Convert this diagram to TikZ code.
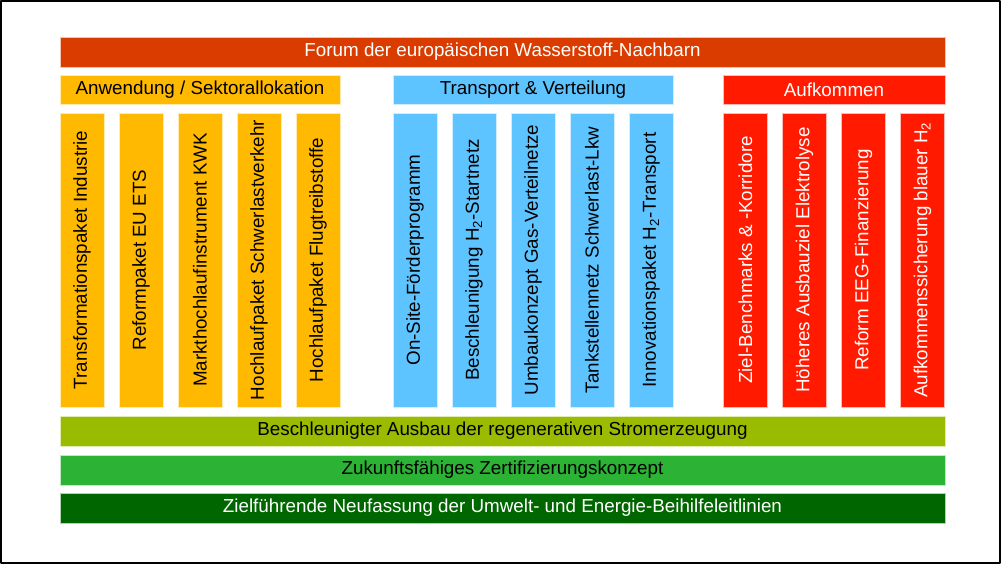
\documentclass[tikz,border=0pt]{standalone}
\usepackage{fontspec}
\setmainfont{Liberation Sans}
\usepackage{xcolor}
\usepackage{tikz}
\usetikzlibrary{positioning}
\definecolor{forumred}{HTML}{DA3C00}
\definecolor{appyellow}{HTML}{FFB900}
\definecolor{transblue}{HTML}{5EC4FF}
\definecolor{supplyred}{HTML}{FF1A00}
\definecolor{olivebar}{HTML}{99BB00}
\definecolor{greenbar}{HTML}{2CB234}
\definecolor{darkbar}{HTML}{006600}
\tikzset{
    every picture/.style={line cap=round,line join=round},
    bar/.style={draw=white!70!#1,fill=#1,line width=0.8pt,
      minimum width=885pt,minimum height=30pt,inner sep=0pt,
      font=\fontsize{18.8}{21}\selectfont},
    headbox/.style={draw=white!70!#1,fill=#1,line width=0.8pt,
      minimum width=280pt,minimum height=29pt,inner sep=0pt,
      font=\fontsize{18.8}{21}\selectfont},
    colbox/.style={draw=white!70!#1,fill=#1,line width=0.8pt,rotate=90,
      minimum width=294pt,minimum height=44pt,inner sep=0pt,
      font=\fontsize{18.8}{21}\selectfont}
}
\begin{document}
\begin{tikzpicture}[x=1pt,y=-1pt]
  \useasboundingbox (0,0) rectangle (1002,564);
  \draw[line width=1.6pt,line cap=butt] (0.8,0.8) rectangle (1000.2,562.8);
  % top bar and group headers
  \node[bar=forumred,text=white] (forum) at (502.5,52) {Forum der europäischen Wasserstoff-Nachbarn};
  \node[headbox=appyellow] (app) at (200,89.5) {Anwendung / Sektorallokation};
  \node[headbox=transblue] (trans) at (533,89.5) {Transport \& Verteilung};
  \node[headbox=supplyred,text=white,minimum width=222pt] (supply) at (834,89.5) {Aufkommen};
  % columns
  \foreach \t [count=\i from 0] in {Transformationspaket Industrie,Reformpaket EU ETS,
      Markthochlaufinstrument KWK,Hochlaufpaket Schwerlastverkehr,Hochlaufpaket Flugtreibstoffe}
    {\node[colbox=appyellow] (app\i) at (82+59*\i,260) {\t};}
  \foreach \t [count=\i from 0] in {On-Site-Förderprogramm,Beschleunigung H\textsubscript{2}-Startnetz,
      Umbaukonzept Gas-Verteilnetze,Tankstellennetz Schwerlast-Lkw,Innovationspaket H\textsubscript{2}-Transport}
    {\node[colbox=transblue] (trans\i) at (415+59*\i,260) {\t};}
  \foreach \t [count=\i from 0] in {Ziel-Benchmarks \& -Korridore,Höheres Ausbauziel Elektrolyse,
      Reform EEG-Finanzierung,Aufkommenssicherung blauer H\textsubscript{2}}
    {\node[colbox=supplyred,text=white] (supply\i) at (745.5+59*\i,260) {\t};}
  % bottom bars
  \node[bar=olivebar] (power) at (502.5,431) {Beschleunigter Ausbau der regenerativen Stromerzeugung};
  \node[bar=greenbar] (cert) at (502.5,470) {Zukunftsfähiges Zertifizierungskonzept};
  \node[bar=darkbar,text=white] (aid) at (502.5,508) {Zielführende Neufassung der Umwelt- und Energie-Beihilfeleitlinien};
\end{tikzpicture}
\end{document}
